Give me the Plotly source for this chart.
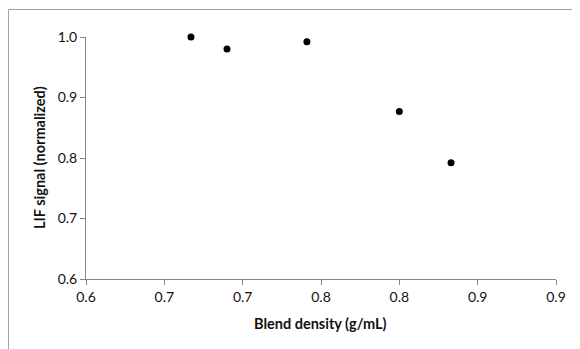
import plotly.graph_objects as go

density = [0.667, 0.690, 0.741, 0.800, 0.833]
lif_signal = [1.000, 0.980, 0.992, 0.877, 0.792]

x_tickvals = [0.6, 0.65, 0.7, 0.75, 0.8, 0.85, 0.9]
x_ticktext = ["0.6", "0.7", "0.7", "0.8", "0.8", "0.9", "0.9"]
y_tickvals = [0.6, 0.7, 0.8, 0.9, 1.0]
y_ticktext = ["0.6", "0.7", "0.8", "0.9", "1.0"]

OFF = 8  # page body margin
W, H = 580 - OFF, 349 - OFF
# plot area in page pixels: x 86..556, y 37..279
L = 86 - OFF
T = 37 - OFF
pw = 470
ph = 242
R = W - L - pw
B = H - T - ph

fig = go.Figure()
fig.add_trace(go.Scatter(
    x=density, y=lif_signal, mode="markers", cliponaxis=False,
    marker=dict(color="black", size=7, line=dict(width=0)),
    showlegend=False,
))

font = "Lato, 'Open Sans', sans-serif"
axis_common = dict(
    showgrid=False, zeroline=False, showline=True, linecolor="#868686", linewidth=1,
    ticks="outside", ticklen=5, tickcolor="#868686", tickwidth=1, automargin=False,
    tickfont=dict(family=font, size=14, color="#111"),
)
fig.update_xaxes(range=[0.6, 0.9], tickvals=x_tickvals, ticktext=x_ticktext, **axis_common)
fig.update_yaxes(range=[0.6, 1.0], tickvals=y_tickvals, ticktext=y_ticktext, **axis_common)

def px(x):
    return (x - OFF - L) / pw
def py(y):
    return 1 - (y - OFF - T) / ph

fig.add_annotation(text="<b>Blend density (g/mL)</b>", xref="paper", yref="paper",
                   x=px(320), y=py(323), showarrow=False, xanchor="center", yanchor="middle",
                   font=dict(family=font, size=14.5, color="#111"))
fig.add_annotation(text="<b>LIF signal (normalized)</b>", xref="paper", yref="paper",
                   x=px(39), y=py(158), showarrow=False, xanchor="center", yanchor="middle",
                   textangle=-90, font=dict(family=font, size=14.5, color="#111"))

# outer chart frame: only left and top edges are visible in the reference
fig.add_shape(type="line", xref="paper", yref="paper",
              x0=px(8.5), x1=px(8.5), y0=py(360), y1=py(9.5),
              line=dict(color="#a0a0a0", width=1), layer="below")
fig.add_shape(type="line", xref="paper", yref="paper",
              x0=px(8.5), x1=px(590), y0=py(9.5), y1=py(9.5),
              line=dict(color="#a0a0a0", width=1), layer="below")

fig.update_layout(
    width=W, height=H, margin=dict(l=L, r=R, t=T, b=B),
    paper_bgcolor="white", plot_bgcolor="white",
)
fig.write_html("out.html")
